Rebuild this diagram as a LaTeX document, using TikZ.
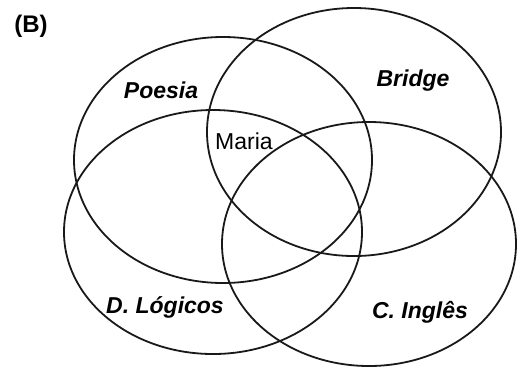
\documentclass[tikz,border=0pt]{standalone}
\usepackage{fontspec}
\setmainfont{Liberation Sans}
\begin{document}
\begin{tikzpicture}[x=1bp,y=-1bp,
  setline/.style={line width=1.8bp, draw=black!90},
  setlabel/.style={anchor=base, inner sep=0pt, font=\fontsize{23bp}{27bp}\selectfont\bfseries\itshape},
  plainlabel/.style={anchor=base, inner sep=0pt, font=\fontsize{23bp}{27bp}\selectfont}]
\useasboundingbox (0,0) rectangle (517,371);
% sets
\draw[setline] (223,160) ellipse [x radius=149bp, y radius=123bp];
\draw[setline] (354,132) ellipse [x radius=147bp, y radius=124bp];
\draw[setline] (213,232) ellipse [x radius=149bp, y radius=122bp];
\draw[setline] (369,244) ellipse [x radius=147bp, y radius=122bp];
% labels
\node[anchor=base, inner sep=0pt, font=\fontsize{24bp}{28bp}\selectfont\bfseries] (title) at (31,32) {(B)};
\node[setlabel] (poesia) at (161,98) {Poesia};
\node[setlabel] (bridge) at (413,86) {Bridge};
\node[plainlabel] (maria) at (244,149) {Maria};
\node[setlabel] (dlog) at (165,313) {D. Lógicos};
\node[setlabel] (cing) at (420,318) {C. Inglês};
\end{tikzpicture}
\end{document}
